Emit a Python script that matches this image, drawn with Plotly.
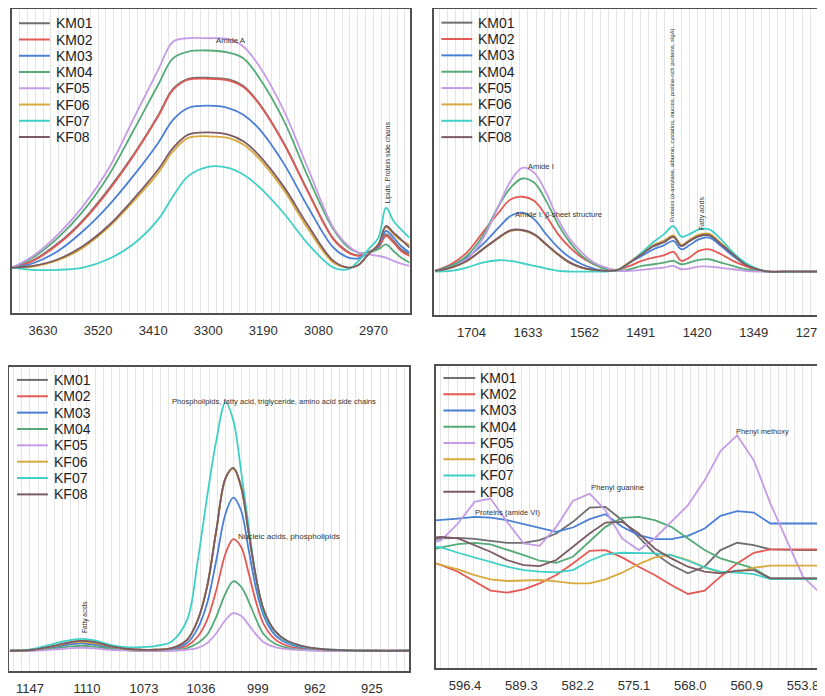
import plotly.graph_objects as go

SERIES = ["KM01", "KM02", "KM03", "KM04", "KF05", "KF06", "KF07", "KF08"]
COLORS = ["#6e6e6e", "#e35a55", "#4a7fd6", "#55ab78", "#c59be6", "#d8a93e", "#3ed0c6", "#7c5a63"]

# ---------------- Panel 1 (3700-2900 cm-1) ----------------
P1_WN = [3692, 3650, 3600, 3550, 3500, 3450, 3400, 3370, 3340, 3300, 3260, 3230, 3200, 3150, 3100,
         3050, 3020, 3000, 2980, 2960, 2945, 2930, 2915, 2898]
P1_KM01 = [0, .022, .073, .143, .234, .338, .458, .538, .568, .571, .566, .546, .497, .377, .227,
           .087, .047, .037, .047, .063, .100, .080, .055, .040]
P1_KM02 = [0, .020, .070, .140, .230, .335, .455, .535, .565, .568, .563, .543, .495, .375, .225,
           .085, .045, .035, .045, .060, .095, .075, .050, .035]
P1_KM03 = [0, .013, .050, .110, .185, .275, .375, .445, .480, .487, .480, .460, .420, .315, .180,
           .060, .030, .028, .045, .065, .110, .090, .065, .045]
P1_KM04 = [0, .030, .090, .170, .275, .410, .550, .630, .650, .653, .647, .630, .575, .445, .270,
           .115, .060, .045, .045, .055, .070, .050, .030, .015]
P1_KF05 = [0, .035, .100, .185, .295, .445, .595, .680, .690, .690, .687, .665, .610, .475, .295,
           .120, .065, .045, .040, .035, .030, .020, .012, .005]
P1_KF06 = [0, .003, .022, .060, .120, .198, .285, .350, .390, .395, .390, .370, .330, .235, .115,
           .015, 0, .008, .040, .070, .122, .100, .082, .068]
P1_KF07 = [0, -.007, -.007, 0, .025, .070, .145, .215, .275, .303, .300, .280, .245, .165, .070,
           0, -.005, .020, .055, .090, .180, .140, .115, .090]
P1_KF08 = [0, .005, .025, .065, .125, .205, .295, .360, .400, .407, .400, .380, .340, .245, .125,
           .020, 0, .008, .040, .070, .125, .105, .085, .060]
P1_TICK0, P1_DTICK = 3630, 110

# ---------------- Panel 2 (1750-1263 cm-1) ----------------
P2_WN = [1750, 1730, 1710, 1690, 1670, 1655, 1640, 1625, 1610, 1595, 1580, 1565, 1550, 1535, 1520,
         1505, 1490, 1475, 1462, 1450, 1440, 1430, 1418, 1405, 1390, 1375, 1360, 1345, 1330, 1300, 1263]
P2_KM01 = [.002, .012, .032, .067, .102, .123, .124, .111, .081, .051, .026, .012, .005, .002, .005,
           .027, .052, .076, .088, .104, .077, .091, .106, .109, .082, .052, .022, .007, 0, 0, 0]
P2_KM02 = [.002, .022, .057, .117, .177, .217, .225, .212, .167, .112, .072, .042, .022, .009, .005,
           .017, .032, .042, .049, .059, .032, .042, .062, .067, .052, .032, .017, .005, 0, 0, 0]
P2_KM03 = [.002, .017, .042, .082, .132, .167, .177, .157, .112, .072, .042, .022, .009, .002, .005,
           .027, .047, .067, .079, .092, .067, .079, .097, .102, .077, .047, .022, .007, 0, 0, 0]
P2_KM04 = [.002, .017, .047, .107, .197, .252, .280, .267, .212, .142, .087, .047, .022, .007, .002,
           .007, .017, .022, .027, .032, .022, .027, .035, .037, .027, .017, .007, .002, 0, 0, 0]
P2_KF05 = [.002, .012, .037, .097, .197, .272, .312, .297, .237, .157, .097, .057, .027, .012, .002,
           .002, .005, .009, .012, .017, .007, .009, .015, .015, .011, .007, .002, 0, 0, 0, 0]
P2_KF06 = [.002, .011, .031, .066, .101, .122, .124, .111, .081, .051, .026, .011, .004, .002, .006,
           .029, .055, .080, .093, .109, .080, .095, .111, .114, .085, .054, .023, .007, 0, 0, 0]
P2_KF07 = [0, .002, .012, .027, .034, .032, .025, .017, .009, .002, 0, 0, 0, 0, .005,
           .027, .057, .089, .112, .137, .105, .112, .127, .127, .097, .057, .027, .009, 0, 0, 0]
P2_KF08 = [.002, .012, .032, .067, .102, .124, .125, .112, .082, .052, .027, .012, .005, .002, .005,
           .027, .052, .077, .089, .105, .077, .092, .107, .110, .082, .052, .022, .007, 0, 0, 0]
P2_TICK0, P2_DTICK = 1704, 71

# ---------------- Panel 3 (1160-901 cm-1) ----------------
P3_WN = [1160, 1145, 1130, 1120, 1113, 1105, 1095, 1085, 1075, 1065, 1055, 1045, 1038, 1032, 1026,
         1020, 1015, 1010, 1005, 1000, 995, 988, 980, 970, 960, 945, 925, 901]
P3_KM01 = [0, .003, .015, .026, .029, .025, .013, .005, .003, .003, .008, .033, .093, .193, .363,
           .519, .549, .494, .354, .214, .119, .059, .029, .013, .005, .002, 0, 0]
P3_KM02 = [0, .002, .013, .021, .023, .019, .009, .003, .001, 0, .003, .015, .043, .093, .183,
           .293, .336, .313, .233, .143, .078, .035, .015, .006, .002, 0, 0, 0]
P3_KM03 = [0, .002, .011, .020, .022, .018, .009, .003, .001, .001, .005, .023, .068, .143, .273,
           .413, .461, .423, .303, .183, .103, .048, .023, .010, .004, .001, 0, 0]
P3_KM04 = [0, .001, .007, .013, .015, .012, .006, .002, 0, 0, .001, .008, .023, .048, .103,
           .173, .209, .193, .148, .093, .048, .021, .009, .003, .001, 0, 0, 0]
P3_KF05 = [0, 0, .004, .008, .009, .007, .003, .001, 0, 0, 0, .003, .009, .023, .053,
           .093, .113, .105, .078, .048, .025, .011, .005, .002, 0, 0, 0, 0]
P3_KF06 = [0, .003, .015, .025, .027, .023, .013, .005, .003, .003, .008, .033, .093, .193, .363,
           .518, .548, .493, .353, .213, .118, .058, .028, .013, .005, .002, 0, 0]
P3_KF07 = [0, .005, .023, .033, .036, .031, .018, .011, .011, .015, .028, .093, .273, .463, .633,
           .748, .693, .543, .373, .213, .113, .058, .028, .013, .006, .002, 0, 0]
P3_KF08 = [0, .003, .016, .027, .030, .026, .014, .006, .003, .003, .008, .033, .093, .193, .363,
           .520, .550, .495, .355, .215, .120, .060, .030, .014, .006, .002, 0, 0]
P3_TICK0, P3_DTICK = 1147, 37

# ---------------- Panel 4 (600-551 cm-1) ----------------
P4_WN = [601.5, 599.4, 597.3, 595.2, 593.2, 591.1, 589.0, 587.0, 584.9, 582.8, 580.7, 578.7, 576.6,
         574.5, 572.5, 570.4, 568.3, 566.2, 564.2, 562.1, 560.0, 557.9, 555.8, 553.8, 551.7, 549.6]
P4_KM01 = [.240, .245, .247, .244, .238, .232, .232, .240, .260, .295, .338, .340, .300,
           .250, .200, .165, .140, .160, .210, .232, .225, .212, .210, .210, .210, .210]
P4_KM02 = [.180, .165, .145, .115, .088, .082, .092, .110, .135, .170, .208, .210, .188,
           .160, .135, .105, .078, .088, .130, .170, .202, .212, .212, .212, .212, .212]
P4_KM03 = [.297, .300, .305, .310, .308, .300, .288, .275, .265, .278, .303, .318, .280,
           .255, .243, .243, .253, .275, .313, .327, .323, .290, .290, .290, .290, .290]
P4_KM04 = [.205, .218, .228, .232, .227, .212, .195, .178, .172, .190, .235, .280, .307,
           .310, .300, .280, .245, .210, .185, .170, .155, .125, .125, .125, .125, .125]
P4_KF05 = [.225, .240, .290, .355, .365, .295, .230, .223, .280, .358, .380, .330, .245,
           .210, .245, .295, .345, .420, .508, .555, .480, .350, .235, .130, .082, .060]
P4_KF06 = [.178, .165, .152, .135, .122, .117, .118, .120, .116, .110, .110, .122, .142,
           .168, .188, .195, .180, .158, .143, .144, .157, .163, .163, .163, .163, .163]
P4_KF07 = [.225, .218, .202, .188, .175, .160, .150, .145, .143, .150, .178, .197, .202,
           .202, .200, .195, .178, .158, .145, .142, .138, .123, .123, .123, .123, .123]
P4_KF08 = [.245, .250, .245, .225, .205, .180, .165, .162, .180, .220, .260, .293, .295,
           .260, .215, .185, .160, .145, .140, .148, .150, .125, .125, .125, .125, .125]
P4_TICK0, P4_DTICK = 596.4, 7.1

PANELS = [
    dict(wn=P1_WN, ys=[P1_KM01, P1_KM02, P1_KM03, P1_KM04, P1_KF05, P1_KF06, P1_KF07, P1_KF08],
         tick0=P1_TICK0, dtick=P1_DTICK, fmt="d", shape="spline"),
    dict(wn=P2_WN, ys=[P2_KM01, P2_KM02, P2_KM03, P2_KM04, P2_KF05, P2_KF06, P2_KF07, P2_KF08],
         tick0=P2_TICK0, dtick=P2_DTICK, fmt="d", shape="spline"),
    dict(wn=P3_WN, ys=[P3_KM01, P3_KM02, P3_KM03, P3_KM04, P3_KF05, P3_KF06, P3_KF07, P3_KF08],
         tick0=P3_TICK0, dtick=P3_DTICK, fmt="d", shape="spline"),
    dict(wn=P4_WN, ys=[P4_KM01, P4_KM02, P4_KM03, P4_KM04, P4_KF05, P4_KF06, P4_KF07, P4_KF08],
         tick0=P4_TICK0, dtick=P4_DTICK, fmt=".1f", shape="linear"),
]

ANNOTS = [
    # (panel, x, y, text, angle, size)
    (1, 3254, 0.682, "Amide A", 0, 7.8),
    (1, 2942, 0.318, "Lipids, Protein side chains", -90, 7),
    (2, 1617, 0.317, "Amide I", 0, 7.6),
    (2, 1595, 0.172, "Amide I: β-sheet structure", 0, 7.6),
    (2, 1451, 0.440, "Proteins (α-amylase, albumin, cystatins, mucins, proline-rich proteins, sIgA)", -90, 5.8),
    (2, 1414, 0.176, "Fatty acids", -90, 6.8),
    (3, 988.5, 0.751, "Phospholipids, fatty acid, triglyceride, amino acid side chains", 0, 7.6),
    (3, 978.6, 0.343, "Nucleic acids, phospholipids", 0, 8.1),
    (3, 1111.4, 0.101, "Fatty acids", -90, 6.5),
    (4, 591.1, 0.323, "Proteins (amide VI)", 0, 7.6),
    (4, 577.2, 0.397, "Phenyl guanine", 0, 7.7),
    (4, 558.9, 0.568, "Phenyl methoxy", 0, 7.4),
]

# The page body has an 8px margin, so the figure is drawn 8px smaller and
# all pixel positions (taken from the reference window) are offset by 8.
OFF = 8
W, H = 825 - OFF, 696 - OFF
def fx(px):
    return (px - OFF) / W
def fy(py):
    return 1 - (py - OFF) / H

GEOM = [
    dict(x=(12, 411), y=(9.3, 314), xr=(3692, 2898), yr=(-0.137, 0.777), mirror=True),
    dict(x=(436, 825), y=(9.3, 316), xr=(1750.7, 1263), yr=(-0.131, 0.789), mirror=False),
    dict(x=(9.3, 410.7), y=(368.3, 673.3), xr=(1160.4, 900.8), yr=(-0.062, 0.853), mirror=True),
    dict(x=(437.3, 825), y=(366.7, 670), xr=(600.1, 551.4), yr=(-0.145, 0.765), mirror=False),
]
LEG = [
    dict(l0=19, l1=50, tx=54, y0=23.3, dy=16.3),
    dict(l0=443, l1=474, tx=478, y0=22.7, dy=16.4),
    dict(l0=17, l1=48, tx=52, y0=381, dy=16.4),
    dict(l0=445, l1=477, tx=480, y0=379, dy=16.3),
]

fig = go.Figure()
layout = dict(width=W, height=H, margin=dict(l=0, r=0, t=0, b=0),
              paper_bgcolor="white", plot_bgcolor="white", showlegend=False,
              font=dict(family="Liberation Sans, Arial, sans-serif"))
shapes, annotations = [], []
GRID = "#e4e4e4"
FRAME = "#505050"

for i, (p, g, lg) in enumerate(zip(PANELS, GEOM, LEG), start=1):
    xa, ya = f"x{i}" if i > 1 else "x", f"y{i}" if i > 1 else "y"
    xkey, ykey = f"xaxis{i}" if i > 1 else "xaxis", f"yaxis{i}" if i > 1 else "yaxis"
    for name, col, yv in zip(SERIES, COLORS, p["ys"]):
        fig.add_trace(go.Scatter(x=p["wn"], y=yv, mode="lines", name=name, xaxis=xa, yaxis=ya,
                                 line=dict(color=col, width=1.8, shape=p["shape"]),
                                 hoverinfo="skip"))
    layout[xkey] = dict(domain=[max(0, fx(g["x"][0])), min(1, fx(g["x"][1]))], anchor=ya,
                        range=list(g["xr"]),
                        tickmode="linear", tick0=p["tick0"], dtick=p["dtick"], tickformat=p["fmt"],
                        showgrid=True, gridcolor=GRID, gridwidth=1, zeroline=False,
                        showline=True, linecolor=FRAME, linewidth=1.7, mirror=True,
                        ticks="outside", ticklen=4, tickcolor="rgba(0,0,0,0)",
                        ticklabeloverflow="allow",
                        tickfont=dict(size=13, color="#2e2e2e"),
                        minor=dict(tick0=p["tick0"], dtick=p["dtick"] / 7, showgrid=True,
                                   gridcolor=GRID, gridwidth=1, ticks=""))
    layout[ykey] = dict(domain=[fy(g["y"][1]), fy(g["y"][0])], anchor=xa, range=list(g["yr"]),
                        showgrid=False, zeroline=False, showticklabels=False, ticks="",
                        showline=True, linecolor=FRAME, linewidth=1.7, mirror=g["mirror"])
    for k, (name, col) in enumerate(zip(SERIES, COLORS)):
        yy = lg["y0"] + k * lg["dy"]
        shapes.append(dict(type="line", xref="paper", yref="paper", x0=fx(lg["l0"]), x1=fx(lg["l1"]),
                           y0=fy(yy), y1=fy(yy), line=dict(color=col, width=2)))
        annotations.append(dict(xref="paper", yref="paper", x=fx(lg["tx"]), y=fy(yy), text=name,
                                showarrow=False, xanchor="left", yanchor="middle",
                                font=dict(size=14, color="#1e1e1e")))

for (pi, x, y, text, ang, sz) in ANNOTS:
    annotations.append(dict(xref=f"x{pi}" if pi > 1 else "x", yref=f"y{pi}" if pi > 1 else "y",
                            x=x, y=y, text=text, showarrow=False, textangle=ang,
                            xanchor="center", yanchor="middle",
                            font=dict(size=sz, color="#333333")))

layout["shapes"] = shapes
layout["annotations"] = annotations
fig.update_layout(**layout)
fig.write_html("out.html")
